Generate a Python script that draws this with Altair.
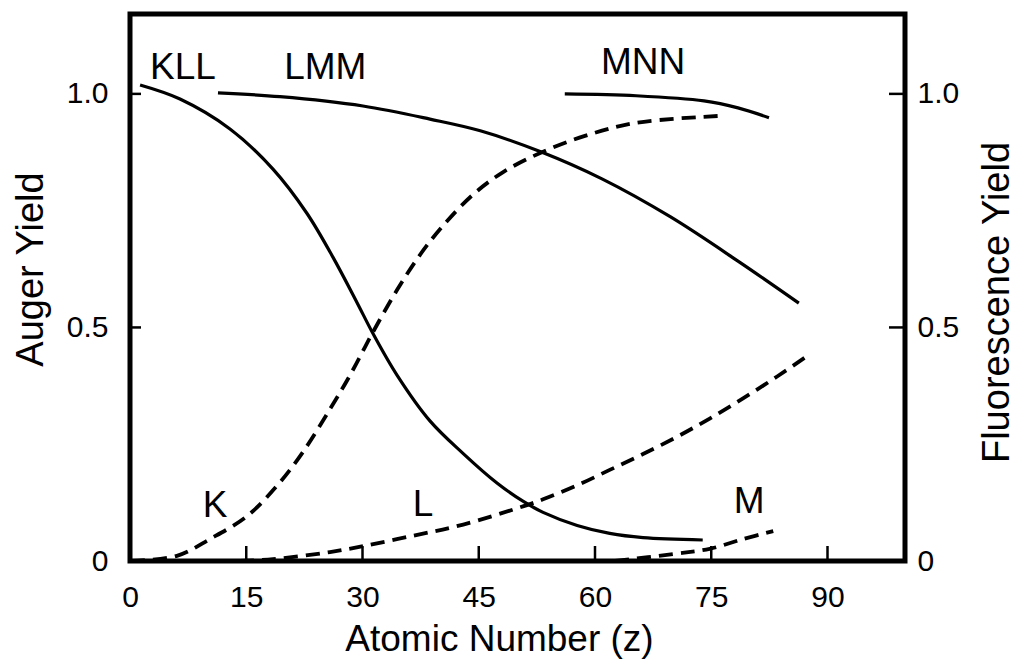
import altair as alt
import pandas as pd

FONT = "Liberation Sans"

# ---- data ----
x_ticks = [0, 15, 30, 45, 60, 75, 90]
y_ticks = [0, 0.5, 1.0]

# Auger yields (solid)
kll_z = [1.3, 6.45, 12.9, 18.45, 22.8, 26.2, 29.3, 31.35, 34.45, 38.7, 43.0, 47.35, 50.7, 53.3, 57.7, 61.9, 66.2, 73.9]
kll_y = [1.019, 0.989, 0.925, 0.839, 0.745, 0.650, 0.553, 0.487, 0.398, 0.300, 0.230, 0.167, 0.128, 0.104, 0.076, 0.059, 0.050, 0.045]
lmm_z = [11.35, 19.35, 30.06, 38.7, 45.2, 53.0, 60.9, 69.7, 78.45, 86.3]
lmm_y = [1.002, 0.994, 0.974, 0.946, 0.921, 0.876, 0.818, 0.737, 0.642, 0.552]
mnn_z = [56.1, 65.3, 74.06, 78.45, 82.45]
mnn_y = [1.0, 0.996, 0.985, 0.970, 0.949]

# Fluorescence yields (dashed)
k_z = [0.13, 6.06, 10.32, 15.1, 18.97, 22.3, 25.8, 28.4, 31.35, 34.45, 37.4, 40.4, 44.3, 48.1, 53.0, 58.7, 65.3, 76.3]
k_y = [0.0, 0.011, 0.047, 0.096, 0.161, 0.233, 0.325, 0.398, 0.490, 0.580, 0.655, 0.718, 0.785, 0.832, 0.874, 0.910, 0.938, 0.953]
l_z = [14.2, 18.45, 25.8, 30.1, 36.5, 43.0, 50.7, 53.3, 57.7, 61.9, 66.2, 70.6, 74.8, 79.1, 83.5, 87.4]
l_y = [0.0, 0.004, 0.019, 0.032, 0.054, 0.078, 0.117, 0.132, 0.162, 0.195, 0.229, 0.266, 0.305, 0.348, 0.395, 0.439]
m_z = [62.6, 70.1, 74.8, 79.1, 83.0]
m_y = [0.0, 0.015, 0.026, 0.047, 0.064]

# curve labels
lab_text = ["KLL", "LMM", "MNN", "K", "L", "M"]
lab_z = [6.84, 25.2, 66.2, 10.97, 37.8, 79.9]
lab_y = [1.056, 1.056, 1.066, 0.118, 0.12, 0.126]


def frame(name, zs, ys):
    return pd.DataFrame({"series": name, "z": zs, "y": ys})


auger = pd.concat([frame("KLL", kll_z, kll_y), frame("LMM", lmm_z, lmm_y),
                   frame("MNN", mnn_z, mnn_y)], ignore_index=True)
fluor = pd.concat([frame("K", k_z, k_y), frame("L", l_z, l_y),
                   frame("M", m_z, m_y)], ignore_index=True)
labels = pd.DataFrame({"t": lab_text, "z": lab_z, "y": lab_y})
xt = pd.DataFrame({"v": x_ticks[1:]})
yt = pd.DataFrame({"v": y_ticks[1:]})

W, H = 775, 547
xs = alt.Scale(domain=[0, 100], nice=False, zero=False)
ys = alt.Scale(domain=[0, 1.171], nice=False, zero=False)
lab_expr = "datum.value == 0 ? '0' : format(datum.value, '.1f')"

x_axis = alt.Axis(values=x_ticks, title="Atomic Number (z)", ticks=False, domain=False,
                  grid=False, labelFontSize=30, labelPadding=21, labelFlush=False,
                  titleFontSize=37, titleX=369, titleY=89, titleAlign="center",
                  titleBaseline="alphabetic")
left_axis = alt.Axis(orient="left", values=y_ticks, labelExpr=lab_expr, title="Auger Yield",
                     ticks=False, domain=False, grid=False, labelFontSize=30, labelPadding=22,
                     titleFontSize=38, titleAngle=270, titleX=-88, titleY=255,
                     titleAlign="center", titleBaseline="alphabetic")
right_axis = alt.Axis(orient="right", values=y_ticks, labelExpr=lab_expr,
                      title="Fluorescence Yield", ticks=False, domain=False, grid=False,
                      labelFontSize=30, labelPadding=12, titleFontSize=38, titleAngle=270,
                      titleX=103, titleY=288, titleAlign="center", titleBaseline="alphabetic")


def X(field):
    return alt.X(field, scale=xs, axis=x_axis, title="Atomic Number (z)")


solid = alt.Chart(auger).mark_line(color="black", strokeWidth=3.2,
                                   interpolate="catmull-rom").encode(
    x=X("z:Q"),
    y=alt.Y("y:Q", scale=ys, axis=left_axis),
    detail="series:N",
)
dashed = alt.Chart(fluor).mark_line(color="black", strokeWidth=3.8, strokeDash=[14, 8],
                                    interpolate="catmull-rom").encode(
    x=X("z:Q"),
    y=alt.Y("y:Q", scale=ys, axis=right_axis),
    detail="series:N",
)
text = alt.Chart(labels).mark_text(font=FONT, fontSize=37, color="black",
                                   baseline="middle", align="center").encode(
    x=X("z:Q"),
    y=alt.Y("y:Q", scale=ys, axis=None),
    text="t:N",
)
xtick = alt.Chart(xt).mark_rule(color="black", strokeWidth=2.5).encode(
    x=X("v:Q"),
    y=alt.value(H), y2=alt.value(H - 15),
)
ltick = alt.Chart(yt).mark_rule(color="black", strokeWidth=2.5).encode(
    y=alt.Y("v:Q", scale=ys, axis=None),
    x=alt.value(0), x2=alt.value(11),
)
rtick = alt.Chart(yt).mark_rule(color="black", strokeWidth=2.5).encode(
    y=alt.Y("v:Q", scale=ys, axis=None),
    x=alt.value(W - 16), x2=alt.value(W),
)

chart = alt.layer(solid, dashed, text, xtick, ltick, rtick).resolve_axis(
    y="independent"
).properties(
    width=W, height=H,
    autosize=alt.AutoSizeParams(type="none"),
    padding={"left": 122, "top": 6, "right": 112, "bottom": 98},
    background="white",
).configure_view(
    stroke="black", strokeWidth=5
).configure_axis(
    labelFont=FONT, titleFont=FONT, labelColor="black", titleColor="black",
    titleFontWeight="normal"
)

chart.save("out.html", embed_options={"renderer": "svg", "actions": False})
